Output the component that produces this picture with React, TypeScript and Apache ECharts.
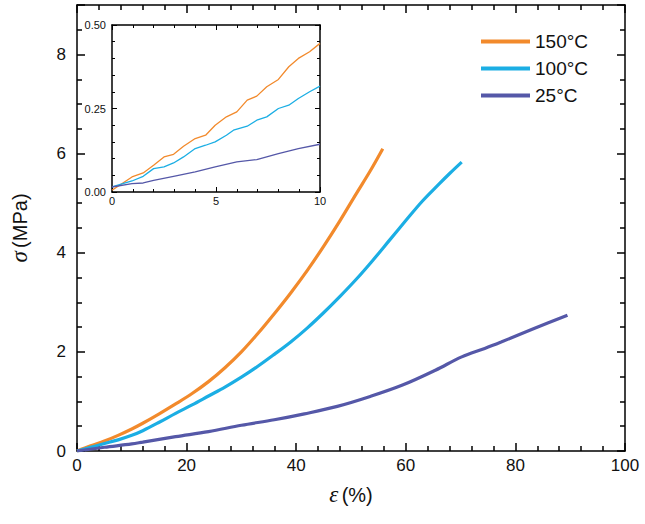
import React, { useEffect, useRef } from "react";
import * as echarts from "echarts";

const seriesNames = ["150°C", "100°C", "25°C"];
const colors = ["#F28A2C", "#1BAEE4", "#5558A8"];

const main150: [number, number][] = [
  [0, 0], [2.5, 0.105], [5, 0.2], [7.5, 0.315], [10, 0.445], [12, 0.56], [15, 0.75], [18, 0.95],
  [21, 1.16], [24, 1.4], [27, 1.68], [30, 2.0], [33, 2.37], [36, 2.77], [39, 3.19], [42, 3.64],
  [45, 4.13], [48, 4.65], [51, 5.2], [53.5, 5.65], [55.8, 6.1],
];
const main100: [number, number][] = [
  [0, 0], [2.5, 0.075], [5, 0.15], [7.5, 0.225], [10, 0.317], [12, 0.41], [15, 0.58], [18, 0.76],
  [21, 0.93], [24, 1.11], [27, 1.29], [30, 1.49], [33, 1.71], [36, 1.95], [39, 2.2], [42, 2.48],
  [45, 2.79], [48, 3.12], [51, 3.47], [54, 3.85], [57, 4.25], [60, 4.65], [63, 5.04], [66, 5.38],
  [68, 5.6], [70.2, 5.83],
];
const main25: [number, number][] = [
  [0, 0], [5, 0.075], [10, 0.143], [12, 0.18], [18, 0.29], [24, 0.39], [30, 0.52], [36, 0.63],
  [41.5, 0.75], [47.5, 0.9], [53.5, 1.1], [59.4, 1.33], [65.4, 1.63], [70.2, 1.9], [74.4, 2.07],
  [77.4, 2.2], [83.4, 2.47], [89.5, 2.74],
];

const inset150: [number, number][] = [
  [0, 0.005], [0.96, 0.045], [1.5, 0.057], [2, 0.08], [2.5, 0.105], [2.96, 0.113], [3.44, 0.137],
  [4, 0.16], [4.5, 0.17], [4.96, 0.2], [5.5, 0.225], [6, 0.24], [6.5, 0.275], [6.96, 0.287],
  [7.44, 0.315], [8, 0.337], [8.5, 0.375], [8.96, 0.4], [9.5, 0.42], [10, 0.445],
];
const inset100: [number, number][] = [
  [0, 0.015], [0.96, 0.033], [1.5, 0.047], [2, 0.07], [2.5, 0.075], [2.96, 0.087], [3.44, 0.105],
  [4, 0.13], [4.5, 0.14], [4.96, 0.15], [5.5, 0.17], [5.84, 0.185], [6.5, 0.197], [6.96, 0.215],
  [7.44, 0.225], [8, 0.25], [8.5, 0.26], [8.96, 0.28], [9.5, 0.3], [10, 0.317],
];
const inset25: [number, number][] = [
  [0, 0.015], [0.96, 0.025], [1.5, 0.027], [2, 0.035], [2.96, 0.047], [4, 0.06], [4.96, 0.075],
  [6, 0.09], [6.96, 0.097], [8, 0.115], [8.96, 0.13], [10, 0.143],
];

const mainData = [main150, main100, main25];
const insetData = [inset150, inset100, inset25];

const FONT = "'Liberation Sans', Arial, sans-serif";

function frameAxis(extra: any) {
  return {
    axisLine: { show: true, onZero: false, lineStyle: { color: "#000", width: 1.5 } },
    splitLine: { show: false },
    ...extra,
  };
}

export default function App() {
  const ref = useRef<HTMLDivElement>(null);
  useEffect(() => {
    if (!ref.current) return;
    const chart = echarts.init(ref.current, null, { renderer: "svg" });
    const mainTick = { show: true, inside: true, length: 8, lineStyle: { color: "#000", width: 1.5 } };
    const mainMinor = (n: number) => ({ show: true, splitNumber: n, length: 5, lineStyle: { color: "#000", width: 1.5 } });
    const insetTick = { show: true, inside: true, length: 5, lineStyle: { color: "#000", width: 1 } };
    const insetMinor = (n: number) => ({ show: true, splitNumber: n, length: 3, lineStyle: { color: "#000", width: 1 } });
    const mainX = { type: "value", min: 0, max: 100, interval: 20 };
    const mainY = { type: "value", min: 0, max: 9, interval: 2 };
    const inX = { type: "value", min: 0, max: 10, interval: 5 };
    const inY = { type: "value", min: 0, max: 0.5, interval: 0.25 };
    const nameRich = {
      i: { fontFamily: "'Liberation Serif', serif", fontStyle: "italic", fontSize: 23, color: "#111" },
      n: { fontFamily: FONT, fontSize: 20, color: "#111" },
    };
    const option: any = {
      animation: false,
      backgroundColor: "#fff",
      grid: [
        { left: 71, right: 20, top: 5, bottom: 73 },
        { left: 112, top: 25, width: 208, height: 167, show: true, backgroundColor: "#fff", borderWidth: 0 },
      ],
      legend: {
        data: seriesNames,
        orient: "vertical",
        left: 481,
        top: 32,
        padding: 0,
        icon: "rect",
        itemWidth: 49,
        itemHeight: 4,
        itemGap: 8,
        textStyle: { fontFamily: FONT, fontSize: 19, color: "#111", lineHeight: 19 },
      },
      xAxis: [
        frameAxis({
          ...mainX, gridIndex: 0, position: "bottom",
          name: "{i|ε} {n|(%)}", nameLocation: "middle", nameGap: 32,
          nameTextStyle: { rich: nameRich },
          axisTick: mainTick, minorTick: mainMinor(5),
          axisLabel: { fontFamily: FONT, fontSize: 17, color: "#111", margin: 6 },
        }),
        frameAxis({ ...mainX, gridIndex: 0, position: "top", axisTick: mainTick, minorTick: mainMinor(5), axisLabel: { show: false } }),
        frameAxis({
          ...inX, gridIndex: 1, position: "bottom",
          axisTick: insetTick, minorTick: insetMinor(5),
          axisLabel: { fontFamily: FONT, fontSize: 11, color: "#111", margin: 3 },
        }),
        frameAxis({ ...inX, gridIndex: 1, position: "top", axisTick: insetTick, minorTick: insetMinor(5), axisLabel: { show: false } }),
      ],
      yAxis: [
        frameAxis({
          ...mainY, gridIndex: 0, position: "left",
          name: "{i|σ} {n|(MPa)}", nameLocation: "middle", nameGap: 46, nameRotate: 90,
          nameTextStyle: { rich: nameRich },
          axisTick: mainTick, minorTick: mainMinor(4),
          axisLabel: { fontFamily: FONT, fontSize: 17, color: "#111", margin: 11, showMaxLabel: false },
        }),
        frameAxis({ ...mainY, gridIndex: 0, position: "right", axisTick: mainTick, minorTick: mainMinor(4), axisLabel: { show: false } }),
        frameAxis({
          ...inY, gridIndex: 1, position: "left",
          axisTick: insetTick, minorTick: insetMinor(5),
          axisLabel: {
            fontFamily: FONT, fontSize: 11, color: "#111", margin: 6,
            formatter: (v: number) => v.toFixed(2),
          },
        }),
        frameAxis({ ...inY, gridIndex: 1, position: "right", axisTick: insetTick, minorTick: insetMinor(5), axisLabel: { show: false } }),
      ],
      series: [
        ...mainData.map((d, i) => ({
          name: seriesNames[i], type: "line", xAxisIndex: 0, yAxisIndex: 0, data: d,
          showSymbol: false, smooth: 0.35, color: colors[i],
          lineStyle: { width: 3.2, color: colors[i] }, z: 3,
        })),
        ...insetData.map((d, i) => ({
          name: seriesNames[i], type: "line", xAxisIndex: 2, yAxisIndex: 2, data: d,
          showSymbol: false, color: colors[i],
          lineStyle: { width: 1.3, color: colors[i] }, z: 3,
        })),
      ],
    };
    chart.setOption(option);
    return () => chart.dispose();
  }, []);
  return <div ref={ref} style={{ position: "fixed", left: 0, top: 0, width: 645, height: 524 }} />;
}
